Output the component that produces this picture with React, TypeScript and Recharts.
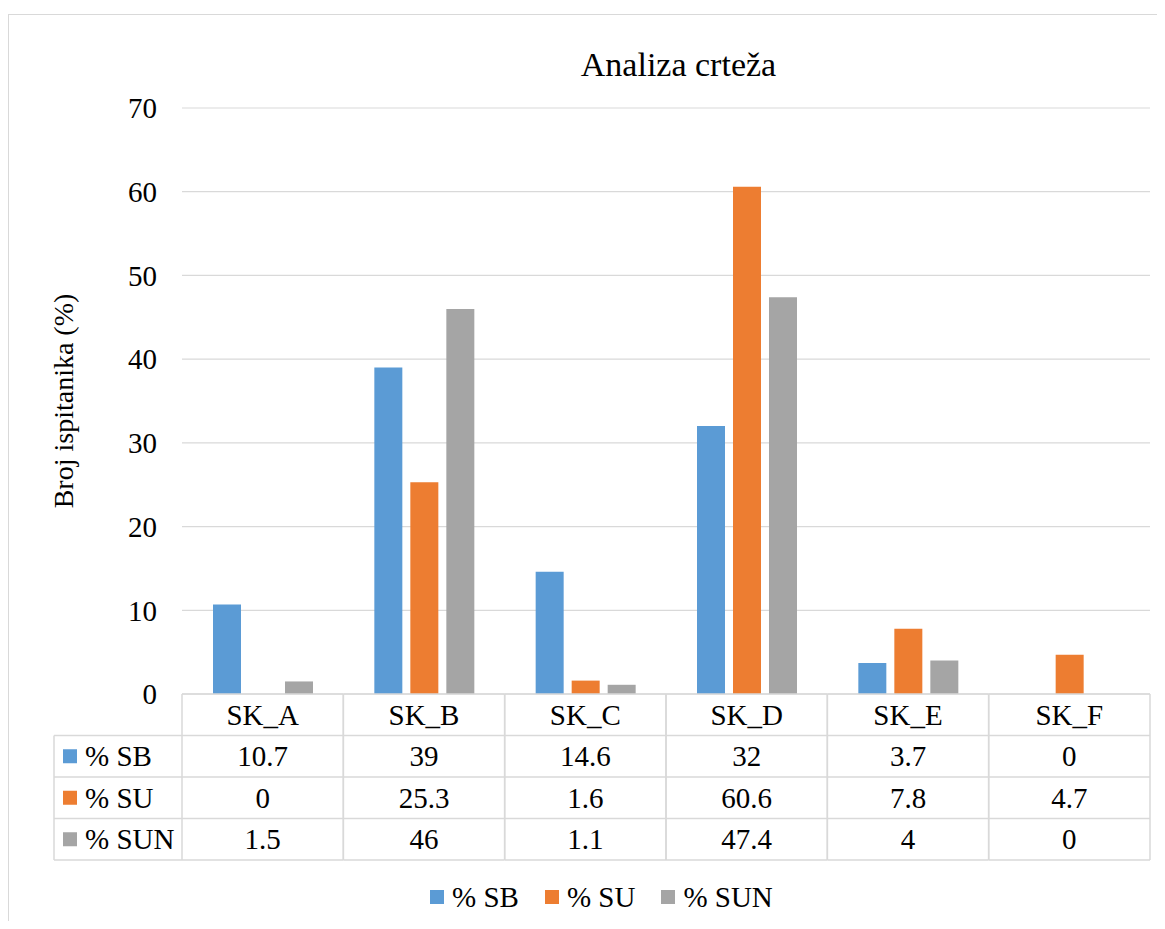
import React from "react"
import { BarChart, Bar, XAxis, YAxis, CartesianGrid, Legend, Customized } from "recharts"

const categories = ["SK_A", "SK_B", "SK_C", "SK_D", "SK_E", "SK_F"]
const sbValues = [10.7, 39, 14.6, 32, 3.7, 0]
const suValues = [0, 25.3, 1.6, 60.6, 7.8, 4.7]
const sunValues = [1.5, 46, 1.1, 47.4, 4, 0]
const seriesNames = ["% SB", "% SU", "% SUN"]
const seriesKeys = ["sb", "su", "sun"]
const seriesColors = ["#5B9BD5", "#ED7D31", "#A5A5A5"]
const yTicks = [0, 10, 20, 30, 40, 50, 60, 70]

const chartData = categories.map((name, i) => ({
  name,
  sb: sbValues[i],
  su: suValues[i],
  sun: sunValues[i],
}))

const FONT = "'Liberation Serif', Tinos, 'Times New Roman', 'DejaVu Serif', serif"
const LINE = "#D9D9D9"
const ROW_H = 41.5
const LEGEND_COL_W = 128

// draws one column of the data table under each category
const TableTick = (props: any) => {
  const { x, y, payload } = props
  const idx: number = payload.index
  const half: number = payload.offset || 161.33 / 2
  const left = x - half
  const right = x + half
  const row = chartData[idx]
  const baseline = (r: number) => y + r * ROW_H + ROW_H / 2 + 10

  return (
    <g>
      {[0, 1, 2, 3, 4].map((r) => (
        <line key={"h" + r} x1={left} x2={right} y1={y + r * ROW_H} y2={y + r * ROW_H} stroke={LINE} strokeWidth={1.5} />
      ))}
      <line x1={left} x2={left} y1={y} y2={y + 4 * ROW_H} stroke={LINE} strokeWidth={1.5} />
      <line x1={right} x2={right} y1={y} y2={y + 4 * ROW_H} stroke={LINE} strokeWidth={1.5} />
      <text x={x} y={baseline(0)} textAnchor="middle" style={{ fontFamily: FONT }} fontSize={29} fill="#000">
        {payload.value}
      </text>
      {seriesKeys.map((k, si) => (
        <text key={k} x={x} y={baseline(si + 1)} textAnchor="middle" style={{ fontFamily: FONT }} fontSize={29} fill="#000">
          {String((row as any)[k])}
        </text>
      ))}
      {idx === 0 && (
        <g>
          {[1, 2, 3, 4].map((r) => (
            <line key={"lh" + r} x1={left - LEGEND_COL_W} x2={left} y1={y + r * ROW_H} y2={y + r * ROW_H} stroke={LINE} strokeWidth={1.5} />
          ))}
          <line x1={left - LEGEND_COL_W} x2={left - LEGEND_COL_W} y1={y + ROW_H} y2={y + 4 * ROW_H} stroke={LINE} strokeWidth={1.5} />
          {seriesNames.map((n, si) => (
            <g key={n}>
              <rect x={left - LEGEND_COL_W + 9} y={y + (si + 1) * ROW_H + ROW_H / 2 - 7} width={14} height={14} fill={seriesColors[si]} />
              <text x={left - LEGEND_COL_W + 31} y={baseline(si + 1)} style={{ fontFamily: FONT }} fontSize={29} fill="#000">
                {n}
              </text>
            </g>
          ))}
        </g>
      )}
    </g>
  )
}

const BottomLegend = (props: any) => {
  const { payload } = props
  return (
    <div style={{ display: "flex", alignItems: "center", height: 30, fontFamily: FONT, fontSize: 29, color: "#000" }}>
      {(payload || []).map((entry: any) => (
        <div key={entry.value} style={{ display: "flex", alignItems: "center", marginRight: 26, whiteSpace: "nowrap" }}>
          <span style={{ display: "inline-block", width: 14, height: 14, background: entry.color, marginRight: 8 }} />
          <span>{entry.value}</span>
        </div>
      ))}
    </div>
  )
}

const Title = () => (
  <text x={669.5} y={61} textAnchor="middle" style={{ fontFamily: FONT }} fontSize={34} fill="#000">
    Analiza crteža
  </text>
)

const YLabel = (props: any) => {
  const vb = props.viewBox || { y: 93, height: 586 }
  const cx = 54
  const cy = vb.y + vb.height / 2
  return (
    <text
      x={cx}
      y={cy}
      transform={`rotate(-90, ${cx}, ${cy})`}
      textAnchor="middle"
      dominantBaseline="central"
      style={{ fontFamily: FONT }}
      fontSize={28}
      fill="#000"
    >
      Broj ispitanika (%)
    </text>
  )
}

export default function App() {
  return (
    <div style={{ paddingTop: 6, fontFamily: FONT }}>
      <div
        style={{
          width: 1157,
          height: 907,
          boxSizing: "border-box",
          borderLeft: `1px solid ${LINE}`,
          borderTop: `1px solid ${LINE}`,
          overflow: "hidden",
          position: "relative",
          background: "#fff",
        }}
      >
        <BarChart
          width={1156}
          height={906}
          data={chartData}
          margin={{ top: 93, right: 15, bottom: 61, left: 0 }}
          barSize={28}
          barGap={8}
          style={{ fontFamily: FONT }}
        >
          <CartesianGrid vertical={false} stroke={LINE} strokeWidth={1.2} />
          <XAxis
            dataKey="name"
            axisLine={false}
            tickLine={false}
            tickSize={0}
            tickMargin={0}
            interval={0}
            height={166}
            tick={<TableTick />}
          />
          <YAxis
            width={173}
            domain={[0, 70]}
            ticks={yTicks}
            axisLine={false}
            tickLine={false}
            tickSize={6}
            tickMargin={19}
            tick={{ fontFamily: FONT, fontSize: 29, fill: "#000", style: { fontFamily: FONT } }}
            label={<YLabel />}
          />
          {seriesKeys.map((k, i) => (
            <Bar key={k} dataKey={k} name={seriesNames[i]} fill={seriesColors[i]} isAnimationActive={false} />
          ))}
          <Legend
            verticalAlign="middle"
            layout="horizontal"
            wrapperStyle={{ left: 421, top: 867, width: 400 }}
            content={<BottomLegend />}
          />
          <Customized component={Title} />
        </BarChart>
      </div>
    </div>
  )
}
